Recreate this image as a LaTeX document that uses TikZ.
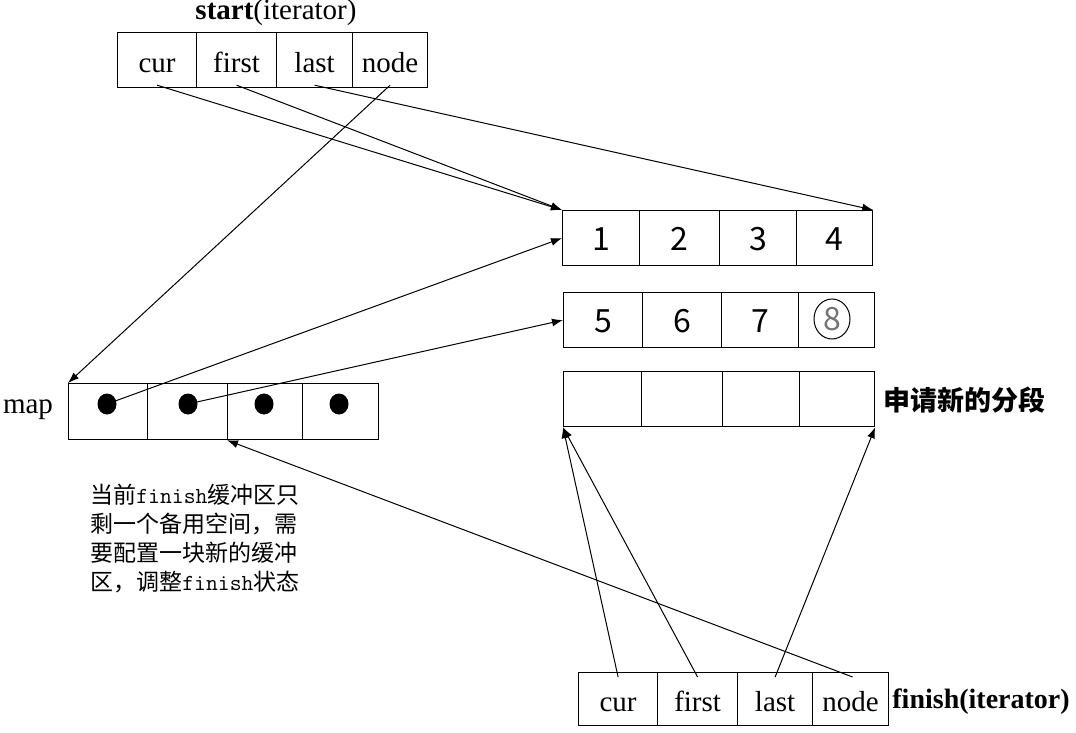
\documentclass[tikz,border=0pt]{standalone}
\usepackage{fontspec}
\setmainfont{Liberation Serif}
\newfontfamily\cjk{Noto Sans CJK SC}
\usetikzlibrary{arrows.meta,shapes.geometric}
\tikzset{
	cell/.style={draw,line width=0.6pt,inner sep=0pt,anchor=north west,text height=12pt,text depth=0pt,font=\fontsize{14.5}{17}\selectfont},
	numcell/.style={cell,text height=12.5pt,font=\cjk\fontsize{16}{18}\selectfont},
	dot/.style={ellipse,fill=black,minimum width=9.5pt,minimum height=10.5pt,inner sep=0pt},
	ptr/.style={line width=0.5pt,-{Latex[length=5.5pt,width=4pt]}}
}
\begin{document}
\begin{tikzpicture}[x=0.5pt,y=-0.5pt]
\useasboundingbox (0,0) rectangle (1076,733);
% start iterator
\node[font=\fontsize{14.5}{17}\selectfont] (startlbl) at (276,13) {\textbf{start}(iterator)};
\node[cell,minimum width=39.5pt,minimum height=27.5pt] (sCur) at (117,32) {cur};
\node[cell,minimum width=40pt,minimum height=27.5pt] (sFirst) at (196,32) {first};
\node[cell,minimum width=38pt,minimum height=27.5pt] (sLast) at (276,32) {last};
\node[cell,minimum width=37.5pt,minimum height=27.5pt] (sNode) at (352,32) {node};
% buffers
\node[numcell,minimum width=38.5pt,minimum height=27.5pt] (p1) at (562,210) {1};
\node[numcell,minimum width=40pt,minimum height=27.5pt] (p2) at (639,210) {2};
\node[numcell,minimum width=38.5pt,minimum height=27.5pt] (p3) at (719,210) {3};
\node[numcell,minimum width=38pt,minimum height=27.5pt] (p4) at (796,210) {4};
\node[numcell,minimum width=39.5pt,minimum height=27.5pt] (q1) at (563,292) {5};
\node[numcell,minimum width=39.5pt,minimum height=27.5pt] (q2) at (642,292) {6};
\node[numcell,minimum width=38.5pt,minimum height=27.5pt] (q3) at (721,292) {7};
\node[numcell,minimum width=38pt,minimum height=27.5pt] (q4) at (798,292) {};
\node[ellipse,draw,line width=0.5pt,minimum width=18pt,minimum height=20pt,inner sep=0pt,text=black!55,font=\cjk\fontsize{16}{18}\selectfont] (c8) at (832,319) {8};
\node[cell,minimum width=39pt,minimum height=27.5pt] (r1) at (563,371) {};
\node[cell,minimum width=40.5pt,minimum height=27.5pt] (r2) at (641,371) {};
\node[cell,minimum width=38.5pt,minimum height=27.5pt] (r3) at (722,371) {};
\node[cell,minimum width=37.5pt,minimum height=27.5pt] (r4) at (799,371) {};
\node[anchor=west,inner sep=0pt,font=\cjk\bfseries\fontsize{13.5}{16}\selectfont] (newlbl) at (883,400) {申请新的分段};
% map
\node[font=\fontsize{14.5}{17}\selectfont] (maplbl) at (28,410) {map};
\node[cell,minimum width=39.5pt,minimum height=28pt] (m1) at (68,383) {};
\node[cell,minimum width=40pt,minimum height=28pt] (m2) at (147,383) {};
\node[cell,minimum width=37.5pt,minimum height=28pt] (m3) at (227,383) {};
\node[cell,minimum width=38pt,minimum height=28pt] (m4) at (302,383) {};
\node[dot] (d1) at (107,404) {};
\node[dot] (d2) at (188,404) {};
\node[dot] (d3) at (264,404) {};
\node[dot] (d4) at (339,404) {};
\node[anchor=north west,inner sep=0pt,align=left,font=\cjk\fontsize{11.5}{14.5}\selectfont] (note) at (90,484)
	{当前{\ttfamily finish}缓冲区只\\剩一个备用空间，需\\要配置一块新的缓冲\\区，调整{\ttfamily finish}状态};
% finish iterator
\node[cell,minimum width=39.5pt,minimum height=26.5pt] (fCur) at (578,672) {cur};
\node[cell,minimum width=40pt,minimum height=26.5pt] (fFirst) at (657,672) {first};
\node[cell,minimum width=37.5pt,minimum height=26.5pt] (fLast) at (737,672) {last};
\node[cell,minimum width=38pt,minimum height=26.5pt] (fNode) at (812,672) {node};
\node[anchor=west,inner sep=0pt,font=\bfseries\fontsize{14}{17}\selectfont] (finlbl) at (892,702) {finish(iterator)};
% pointers
\draw[ptr] ([yshift=1.5pt]sCur.south) -- (p1.north west);
\draw[ptr] ([yshift=1.5pt]sFirst.south) -- (p1.north west);
\draw[ptr] ([yshift=1.5pt]sLast.south) -- (p4.north east);
\draw[ptr] ([yshift=1.5pt]sNode.south) -- (m1.north west);
\draw[ptr] (d1.center) -- (p1.west);
\draw[ptr] (d2.center) -- (q1.west);
\draw[ptr] ([yshift=-2.5pt]fCur.north) -- (r1.south west);
\draw[ptr] ([yshift=-2.5pt]fFirst.north) -- (r1.south west);
\draw[ptr] ([yshift=-2.5pt]fLast.north) -- (r4.south east);
\draw[ptr] ([yshift=-2.5pt,xshift=1pt]fNode.north) -- (m3.south west);
\end{tikzpicture}
\end{document}
